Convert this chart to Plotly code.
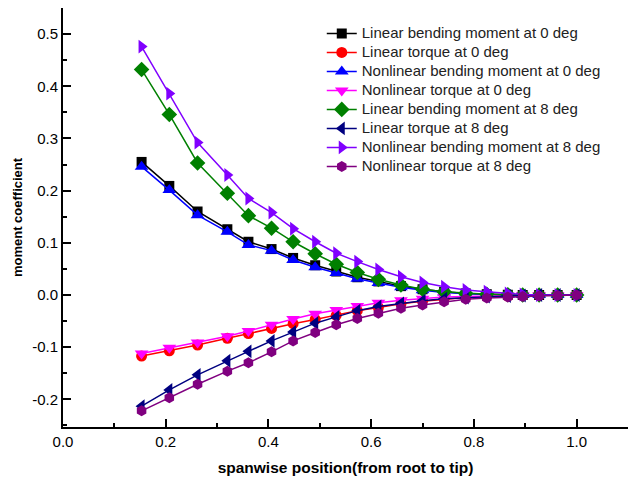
import plotly.graph_objects as go

x = [0.153, 0.207, 0.262, 0.320, 0.361, 0.406, 0.448, 0.491, 0.532, 0.573, 0.614,
     0.658, 0.700, 0.742, 0.784, 0.825, 0.866, 0.895, 0.927, 0.963, 1.0]

lin_bend_0 = [0.255, 0.209, 0.160, 0.126, 0.102, 0.088, 0.071, 0.057, 0.045, 0.034, 0.026,
              0.017, 0.011, 0.006, 0.003, 0.0015, 0.0005, 0.0, 0.0, 0.0, 0.0]
lin_torq_0 = [-0.117, -0.107, -0.096, -0.083, -0.074, -0.064, -0.055, -0.047, -0.039, -0.030, -0.024,
              -0.017, -0.012, -0.008, -0.005, -0.003, -0.002, -0.001, 0.0, 0.0, 0.0]
nl_bend_0 = [0.246, 0.201, 0.153, 0.121, 0.096, 0.085, 0.067, 0.053, 0.042, 0.031, 0.023,
             0.015, 0.009, 0.005, 0.003, 0.001, 0.0005, 0.0, 0.0, 0.0, 0.0]
nl_torq_0 = [-0.112, -0.101, -0.091, -0.079, -0.069, -0.057, -0.046, -0.036, -0.029, -0.021, -0.015,
             -0.010, -0.007, -0.004, -0.003, -0.002, -0.001, 0.0, 0.0, 0.0, 0.0]
lin_bend_8 = [0.432, 0.346, 0.253, 0.195, 0.152, 0.128, 0.102, 0.079, 0.059, 0.043, 0.030,
              0.019, 0.011, 0.006, 0.003, 0.0015, 0.0005, 0.0, 0.0, 0.0, 0.0]
lin_torq_8 = [-0.213, -0.182, -0.153, -0.126, -0.108, -0.088, -0.071, -0.054, -0.042, -0.030, -0.022,
              -0.016, -0.011, -0.007, -0.005, -0.003, -0.002, -0.001, 0.0, 0.0, 0.0]
nl_bend_8 = [0.476, 0.386, 0.292, 0.230, 0.185, 0.158, 0.127, 0.102, 0.080, 0.064, 0.049,
             0.035, 0.024, 0.016, 0.0096, 0.0064, 0.003, 0.001, 0.0, 0.0, 0.0]
nl_torq_8 = [-0.222, -0.197, -0.171, -0.146, -0.130, -0.109, -0.088, -0.072, -0.057, -0.045, -0.035,
             -0.0255, -0.019, -0.013, -0.008, -0.006, -0.004, -0.003, -0.002, -0.001, 0.0]

series = [
    ("Linear bending moment at 0 deg", lin_bend_0, "#000000", "square", 10),
    ("Linear torque at 0 deg", lin_torq_0, "#FF0000", "circle", 11),
    ("Nonlinear bending moment at 0 deg", nl_bend_0, "#0000FF", "triangle-up", 12),
    ("Nonlinear torque at 0 deg", nl_torq_0, "#FF00FF", "triangle-down", 12),
    ("Linear bending moment at 8 deg", lin_bend_8, "#008000", "diamond", 12),
    ("Linear torque at 8 deg", lin_torq_8, "#000080", "triangle-left", 12),
    ("Nonlinear bending moment at 8 deg", nl_bend_8, "#8000FF", "triangle-right", 12),
    ("Nonlinear torque at 8 deg", nl_torq_8, "#800080", "hexagon", 11),
]

fig = go.Figure()
for name, ys, color, sym, size in series:
    fig.add_trace(go.Scatter(
        x=x, y=ys, name="<span style='font-size:15px'>" + name + "</span>",
        mode="lines+markers",
        line=dict(color=color, width=1.5),
        marker=dict(symbol=sym, size=size, color=color, line=dict(width=0)),
    ))

axis_common = dict(
    showline=True, linecolor="black", linewidth=2,
    ticks="inside", tickcolor="black", tickwidth=1.5, ticklen=8,
    showgrid=False, zeroline=False, mirror=False,
    tickfont=dict(family="Arial, Liberation Sans", size=15, color="black"),
)

fig.update_layout(
    width=630, height=482,
    margin=dict(l=63, r=2, t=8, b=55),
    paper_bgcolor="white", plot_bgcolor="white",
    font=dict(family="Arial, Liberation Sans", color="black"),
    xaxis=dict(range=[0, 1.1], tickvals=[0, 0.2, 0.4, 0.6, 0.8, 1.0],
               ticktext=["0.0", "0.2", "0.4", "0.6", "0.8", "1.0"],
               minor=dict(dtick=0.1, tick0=0, ticks="inside", ticklen=4, tickcolor="black", tickwidth=1.5),
               title=dict(text="<b>spanwise position(from root to tip)</b>",
                          font=dict(size=15.5, family="Arial, Liberation Sans"), standoff=13),
               **axis_common),
    yaxis=dict(range=[-0.253, 0.55], tickvals=[-0.2, -0.1, 0.0, 0.1, 0.2, 0.3, 0.4, 0.5],
               ticktext=["-0.2", "-0.1", "0.0", "0.1", "0.2", "0.3", "0.4", "0.5"],
               minor=dict(dtick=0.05, tick0=0, ticks="inside", ticklen=4, tickcolor="black", tickwidth=1.5),
               title=dict(text="<b>moment coefficient</b>",
                          font=dict(size=13, family="Arial, Liberation Sans"), standoff=7),
               **axis_common),
    legend=dict(x=0.458, y=0.974, xanchor="left", yanchor="top",
                bgcolor="rgba(0,0,0,0)", font=dict(size=12, color="#222"),
                tracegroupgap=0, itemwidth=30),
    showlegend=True,
)

fig.write_html("out.html")
